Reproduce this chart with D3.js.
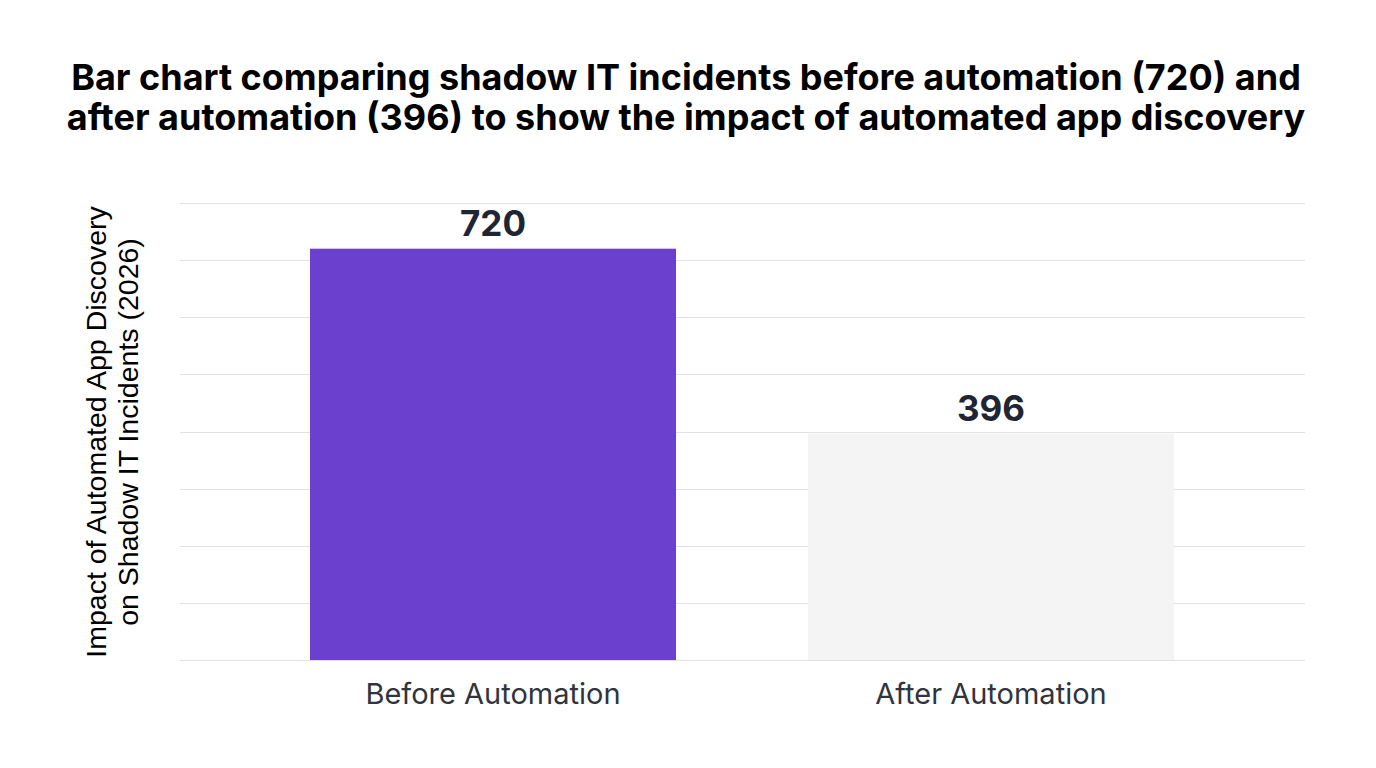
<!DOCTYPE html>
<html>
<head>
<meta charset="utf-8">
<script src="https://cdn.jsdelivr.net/npm/d3@7"></script>
<style>
  body { margin: 0; background: #fff; }
  svg { display: block; }
</style>
</head>
<body>
<div id="chart"></div>
<script>
// data
const categories = ["Before Automation", "After Automation"];
const incidents = [720, 396];
const yTicks = [0, 100, 200, 300, 400, 500, 600, 700, 800];
const titleLines = [
  "Bar chart comparing shadow IT incidents before automation (720) and",
  "after automation (396) to show the impact of automated app discovery"
];
const yLabelLines = ["Impact of Automated App Discovery", "on Shadow IT Incidents (2026)"];
const barColors = ["#6b40cf", "#f4f4f4"];

const W = 1376, H = 768;
const svg = d3.select("#chart").append("svg")
  .attr("width", W).attr("height", H);

// scales
const x = d3.scaleBand().domain(categories).range([310, 1174])
  .paddingInner(0.265).paddingOuter(0);
const y = d3.scaleLinear().domain([0, 800]).range([660, 203]);

// title
svg.append("g").selectAll("text").data(titleLines).join("text")
  .attr("x", 686).attr("y", (d, i) => 90 + i * 40)
  .attr("text-anchor", "middle")
  .style("font-family", "Inter, Roboto, sans-serif")
  .style("font-weight", 700).style("font-size", "36px")
  .style("fill", "#000")
  .text(d => d);

// gridlines
svg.append("g").selectAll("line").data(yTicks).join("line")
  .attr("x1", 180).attr("x2", 1305)
  .attr("y1", d => Math.round(y(d)) + 0.5).attr("y2", d => Math.round(y(d)) + 0.5)
  .attr("stroke", "#e2e2e4").attr("stroke-width", 1);

// bars
svg.append("g").selectAll("rect").data(incidents).join("rect")
  .attr("x", (d, i) => x(categories[i]))
  .attr("width", x.bandwidth())
  .attr("y", d => y(d))
  .attr("height", d => y(0) - y(d))
  .attr("fill", (d, i) => barColors[i]);

// value labels
svg.append("g").selectAll("text").data(incidents).join("text")
  .attr("x", (d, i) => x(categories[i]) + x.bandwidth() / 2)
  .attr("y", d => y(d) - 13)
  .attr("text-anchor", "middle")
  .style("font-family", "Inter, Roboto, sans-serif")
  .style("font-weight", 700).style("font-size", "35px")
  .style("fill", "#1f2533")
  .text(d => d);

// x axis labels
svg.append("g").selectAll("text").data(categories).join("text")
  .attr("x", d => x(d) + x.bandwidth() / 2)
  .attr("y", 704)
  .attr("text-anchor", "middle")
  .style("font-family", "Inter, Roboto, sans-serif")
  .style("font-size", "29px")
  .style("fill", "#30343d")
  .text(d => d);

// y axis label
svg.append("g").attr("transform", "translate(0,432) rotate(-90)")
  .selectAll("text").data(yLabelLines).join("text")
  .attr("x", 0).attr("y", (d, i) => 106 + i * 32)
  .attr("text-anchor", "middle")
  .style("font-family", "'Liberation Sans', Arial, sans-serif")
  .style("font-size", "28.5px")
  .style("fill", "#000")
  .text(d => d);
</script>
</body>
</html>
